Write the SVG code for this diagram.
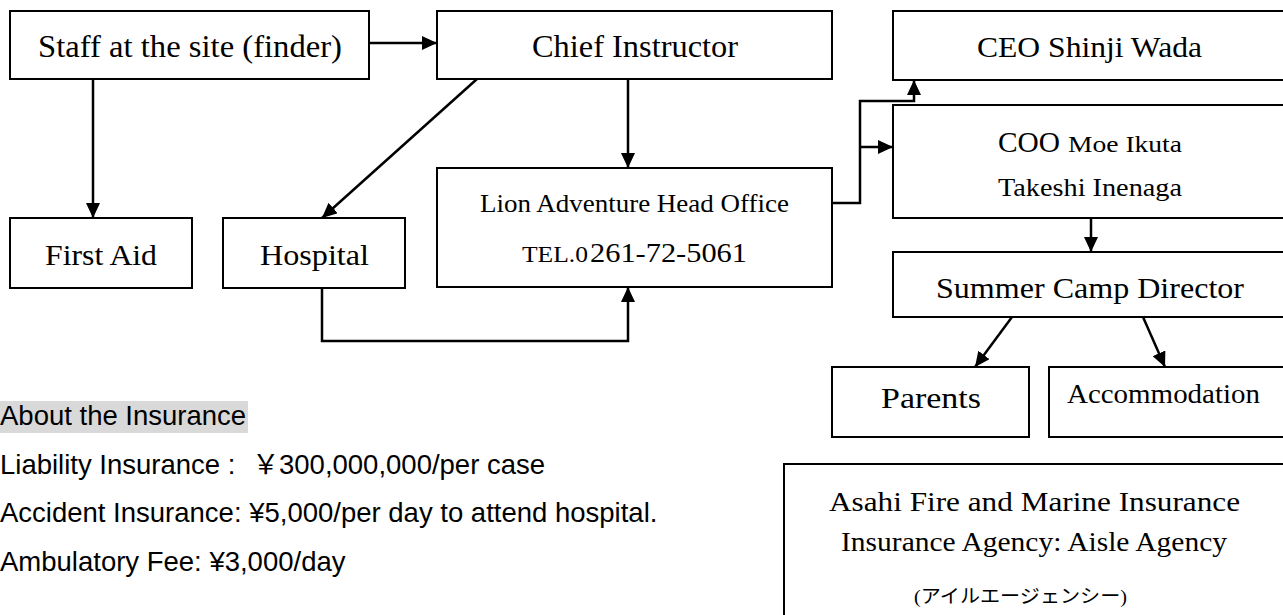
<svg xmlns="http://www.w3.org/2000/svg" width="1283" height="615" viewBox="0 0 1283 615">
<style>
.box{fill:#fff;stroke:#000;stroke-width:2}
.conn{fill:none;stroke:#000;stroke-width:2.5;marker-end:url(#ah)}
.t{font-family:"Liberation Serif","Noto Sans CJK JP",serif;fill:#000}
.s{font-family:"Liberation Sans",Arial,sans-serif;font-size:27.5px;fill:#000}
</style>
<defs>
<marker id="ah" markerWidth="15" markerHeight="14" refX="15" refY="7" orient="auto" markerUnits="userSpaceOnUse">
<path d="M0,0 L15,7 L0,14 z" fill="#000"/>
</marker>
</defs>
<rect width="1283" height="615" fill="#fff"/>
<g id="staff"><rect class="box" x="10" y="11" width="359" height="68"/><text class="t" x="38" y="57" font-size="31" textLength="304" lengthAdjust="spacingAndGlyphs">Staff at the site (finder)</text></g>
<g id="chief"><rect class="box" x="437" y="11" width="395" height="68"/><text class="t" x="532" y="57" font-size="31" textLength="206" lengthAdjust="spacingAndGlyphs">Chief Instructor</text></g>
<g id="ceo"><rect class="box" x="893" y="11" width="393" height="69"/><text class="t" x="977" y="57" font-size="30" textLength="225" lengthAdjust="spacingAndGlyphs">CEO Shinji Wada</text></g>
<g id="coo"><rect class="box" x="893" y="105" width="393" height="113"/><text class="t" x="998" y="152" font-size="29" textLength="62" lengthAdjust="spacingAndGlyphs">COO</text><text class="t" x="1068" y="152" font-size="24" textLength="114" lengthAdjust="spacingAndGlyphs">Moe Ikuta</text><text class="t" x="998" y="196" font-size="26" textLength="184" lengthAdjust="spacingAndGlyphs">Takeshi Inenaga</text></g>
<g id="lion"><rect class="box" x="437" y="168" width="395" height="119"/><text class="t" x="480" y="212" font-size="24.5" textLength="309" lengthAdjust="spacingAndGlyphs">Lion Adventure Head Office</text><text class="t" x="522" y="262" font-size="24" textLength="66" lengthAdjust="spacingAndGlyphs">TEL.0</text><text class="t" x="590" y="262" font-size="28" textLength="157" lengthAdjust="spacingAndGlyphs">261-72-5061</text></g>
<g id="firstaid"><rect class="box" x="10" y="218" width="182" height="70"/><text class="t" x="45" y="265" font-size="29" textLength="112" lengthAdjust="spacingAndGlyphs">First Aid</text></g>
<g id="hospital"><rect class="box" x="223" y="218" width="182" height="70"/><text class="t" x="260" y="265" font-size="29" textLength="109" lengthAdjust="spacingAndGlyphs">Hospital</text></g>
<g id="director"><rect class="box" x="893" y="252" width="393" height="65"/><text class="t" x="936" y="298" font-size="30" textLength="308" lengthAdjust="spacingAndGlyphs">Summer Camp Director</text></g>
<g id="parents"><rect class="box" x="832" y="367" width="197" height="70"/><text class="t" x="881" y="408" font-size="30" textLength="100" lengthAdjust="spacingAndGlyphs">Parents</text></g>
<g id="accommodation"><rect class="box" x="1049" y="367" width="237" height="70"/><text class="t" x="1067" y="403" font-size="27.5" textLength="193" lengthAdjust="spacingAndGlyphs">Accommodation</text></g>
<g id="insurer"><rect class="box" x="784" y="464" width="502" height="160"/><text class="t" x="829" y="511" font-size="28" textLength="411" lengthAdjust="spacingAndGlyphs">Asahi Fire and Marine Insurance</text><text class="t" x="841" y="551" font-size="28" textLength="386" lengthAdjust="spacingAndGlyphs">Insurance Agency: Aisle Agency</text><text class="t" x="914" y="603" font-size="19" textLength="213" lengthAdjust="spacingAndGlyphs">(アイルエージェンシー)</text></g>
<g id="connectors">
<path class="conn" d="M369,43 H437"/>
<path class="conn" d="M93,79 V218"/>
<path class="conn" d="M628,79 V168"/>
<path class="conn" d="M477,79 L322,218"/>
<path class="conn" d="M322,288 V341 H628 V287"/>
<path class="conn" d="M832,203 H860 V101 H914 V80"/>
<path class="conn" d="M860,147 H893"/>
<path class="conn" d="M1091,218 V252"/>
<path class="conn" d="M1012,317 L975,367"/>
<path class="conn" d="M1143,317 L1165,367"/>
</g>
<g id="insurance-notes">
<rect x="0" y="401" width="248" height="32" fill="#d9d9d9"/>
<text class="s" x="0" y="425">About the Insurance</text>
<text class="s" x="0" y="474">Liability Insurance :<tspan x="252" font-family="'Noto Sans CJK JP',sans-serif">￥</tspan><tspan x="279">300,000,000/per case</tspan></text>
<text class="s" x="0" y="522">Accident Insurance: ¥5,000/per day to attend hospital.</text>
<text class="s" x="0" y="571">Ambulatory Fee: ¥3,000/day</text>
</g>
</svg>
